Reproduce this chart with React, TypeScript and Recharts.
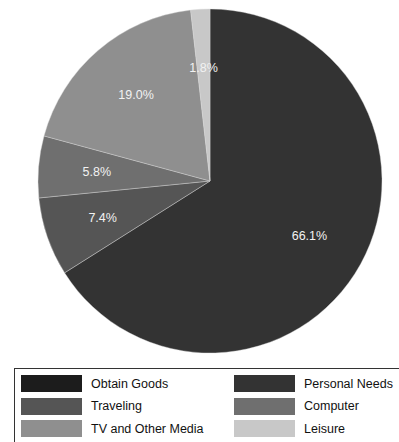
import { PieChart, Pie, Cell } from "recharts";

const categories = [
  "Obtain Goods",
  "Personal Needs",
  "Traveling",
  "Computer",
  "TV and Other Media",
  "Leisure",
];
const shares = [0, 66.1, 7.4, 5.8, 19.0, 1.8];
const colors = ["#1c1c1c", "#333333", "#555555", "#6f6f6f", "#8f8f8f", "#c8c8c8"];

const data = categories.map((name, i) => ({ name, value: shares[i] }));

const RADIAN = Math.PI / 180;
const FONT = "'Liberation Sans', Arial, Helvetica, sans-serif";

function renderLabel(props: any) {
  const { cx, cy, midAngle, outerRadius, value } = props;
  if (!value) return null;
  const r = outerRadius * 0.66;
  const x = cx + r * Math.cos(-midAngle * RADIAN);
  const y = cy + r * Math.sin(-midAngle * RADIAN);
  return (
    <text
      x={x}
      y={y}
      fill="#f2f2f2"
      textAnchor="middle"
      dominantBaseline="central"
      fontSize={12.5}
      fontFamily={FONT}
    >
      {`${value.toFixed(1)}%`}
    </text>
  );
}

export default function App() {
  return (
    <div
      style={{
        position: "absolute",
        left: 0,
        top: 0,
        width: 399,
        height: 442,
        overflow: "hidden",
        background: "#fff",
        fontFamily: FONT,
      }}
    >
      <PieChart
        width={399}
        height={360}
        margin={{ top: 0, right: 0, bottom: 0, left: 0 }}
      >
        <Pie
          data={data}
          dataKey="value"
          nameKey="name"
          cx={210}
          cy={181}
          outerRadius={172}
          startAngle={90}
          endAngle={-270}
          stroke="#d8d8d8"
          strokeWidth={0.4}
          label={renderLabel}
          labelLine={false}
          isAnimationActive={false}
        >
          {data.map((d, i) => (
            <Cell key={d.name} fill={colors[i]} />
          ))}
        </Pie>
      </PieChart>
      <div
        style={{
          position: "absolute",
          left: 14,
          top: 368,
          width: 420,
          height: 90,
          border: "1px solid #333",
          boxSizing: "border-box",
        }}
      >
        {data.map((d, i) => {
          const col = i % 2;
          const row = Math.floor(i / 2);
          return (
            <div
              key={d.name}
              style={{
                position: "absolute",
                left: 6 + col * 213,
                top: 6 + row * 22.5,
                display: "flex",
                alignItems: "center",
                height: 17,
              }}
            >
              <div
                style={{
                  width: 61,
                  height: 17,
                  background: colors[i],
                }}
              />
              <span
                style={{
                  marginLeft: 9,
                  fontSize: 12.5,
                  color: "#111",
                  whiteSpace: "nowrap",
                }}
              >
                {d.name}
              </span>
            </div>
          );
        })}
      </div>
    </div>
  );
}
